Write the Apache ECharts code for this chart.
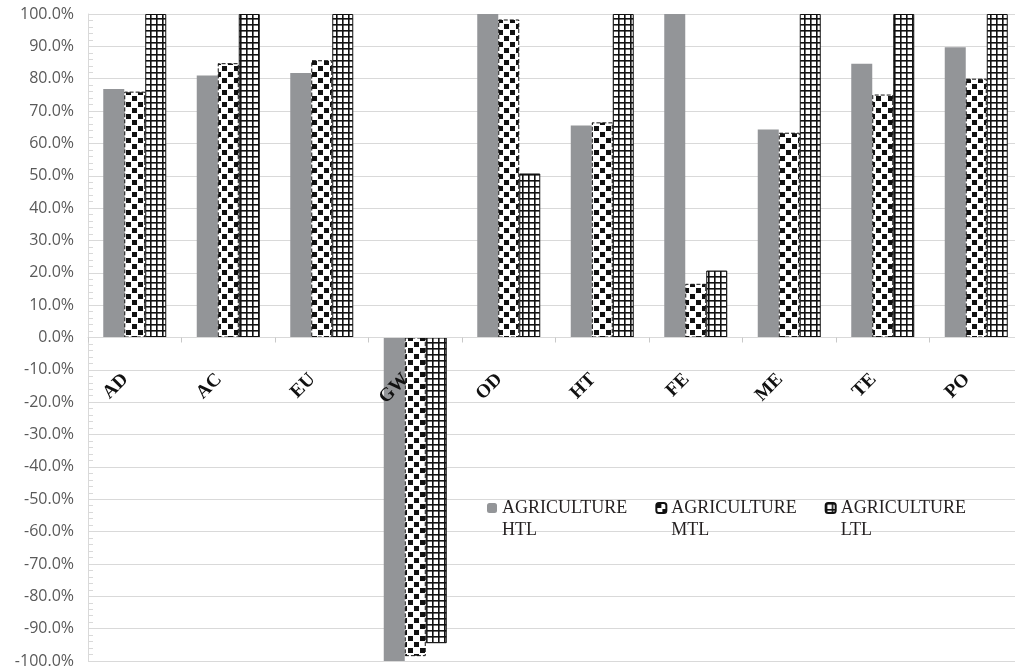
<!DOCTYPE html>
<html><head><meta charset="utf-8">
<script src="https://cdn.jsdelivr.net/npm/echarts@6/dist/echarts.min.js"></script>
<style>html,body{margin:0;padding:0;background:#fff}#c{width:1015px;height:668px}</style>
</head><body><div id="c"></div>
<script>
const categories = ['AD','AC','EU','GW','OD','HT','FE','ME','TE','PO'];
const htl = [76.8, 81.0, 81.8, -100, 100, 65.5, 100, 64.3, 84.6, 89.7];
const mtl = [76.0, 84.8, 85.7, -98.5, 98.3, 66.5, 16.6, 63.3, 75.1, 80.0];
const ltl = [100, 100, 100, -94.5, 50.7, 100, 20.7, 100, 100, 100];
const seriesNames = ['AGRICULTURE\nHTL', 'AGRICULTURE\nMTL', 'AGRICULTURE\nLTL'];

function checker() {
  const c = document.createElement('canvas'); c.width = 12; c.height = 12;
  const g = c.getContext('2d');
  g.fillStyle = '#fff'; g.fillRect(0, 0, 12, 12);
  g.fillStyle = '#111'; g.fillRect(0, 0, 5, 5); g.fillRect(6, 6, 5, 5);
  return c;
}
function gridPat() {
  const c = document.createElement('canvas'); c.width = 6; c.height = 6;
  const g = c.getContext('2d');
  g.fillStyle = '#fff'; g.fillRect(0, 0, 6, 6);
  g.fillStyle = '#111'; g.fillRect(0, 0, 6, 1.6); g.fillRect(0, 0, 1.6, 6);
  return c;
}

const chart = echarts.init(document.getElementById('c'));
chart.setOption({
  animation: false,
  backgroundColor: '#fff',
  grid: { left: 88, top: 14, width: 935, bottom: 7, containLabel: false, outerBoundsMode: 'none' },
  legend: {
    left: 482, top: 470, itemWidth: 10, itemHeight: 10, itemGap: 28,
    formatter: name => ' \n' + name,
    textStyle: { fontFamily: 'Liberation Serif', fontSize: 18, color: '#231f20', lineHeight: 22 }
  },
  xAxis: {
    type: 'category', data: categories,
    offset: -323.5, z: 5,
    axisLine: { onZero: false, lineStyle: { color: '#d9d9d9' } },
    axisTick: { show: true, length: 5, lineStyle: { color: '#c8c8c8' } },
    axisLabel: { rotate: 45, fontFamily: 'Liberation Serif', fontWeight: 'bold', fontSize: 19, color: '#111', margin: 30, padding: [0, 13, 0, 0] }
  },
  yAxis: {
    type: 'value', min: -100, max: 100, interval: 10,
    axisLine: { show: true, lineStyle: { color: '#d9d9d9' } },
    axisTick: { show: true, inside: true, length: 5, lineStyle: { color: '#d9d9d9' } },
    minorTick: { show: true, splitNumber: 5, length: 5, lineStyle: { color: '#d9d9d9' } },
    splitLine: { lineStyle: { color: '#d9d9d9' } },
    axisLabel: { formatter: v => v.toFixed(1) + '%', fontFamily: 'Open Sans', fontSize: 16, color: '#595959', margin: 14 }
  },
  series: [
    { name: seriesNames[0], type: 'bar', data: htl, barWidth: 21, barGap: '0%',
      itemStyle: { color: '#939598' } },
    { name: seriesNames[1], type: 'bar', data: mtl, barWidth: 21, barGap: '0%',
      itemStyle: { color: { image: checker(), repeat: 'repeat' }, borderColor: '#111', borderWidth: 1, borderType: 'dashed' } },
    { name: seriesNames[2], type: 'bar', data: ltl, barWidth: 21, barGap: '0%',
      itemStyle: { color: { image: gridPat(), repeat: 'repeat' }, borderColor: '#111', borderWidth: 1 } }
  ]
});
</script></body></html>
